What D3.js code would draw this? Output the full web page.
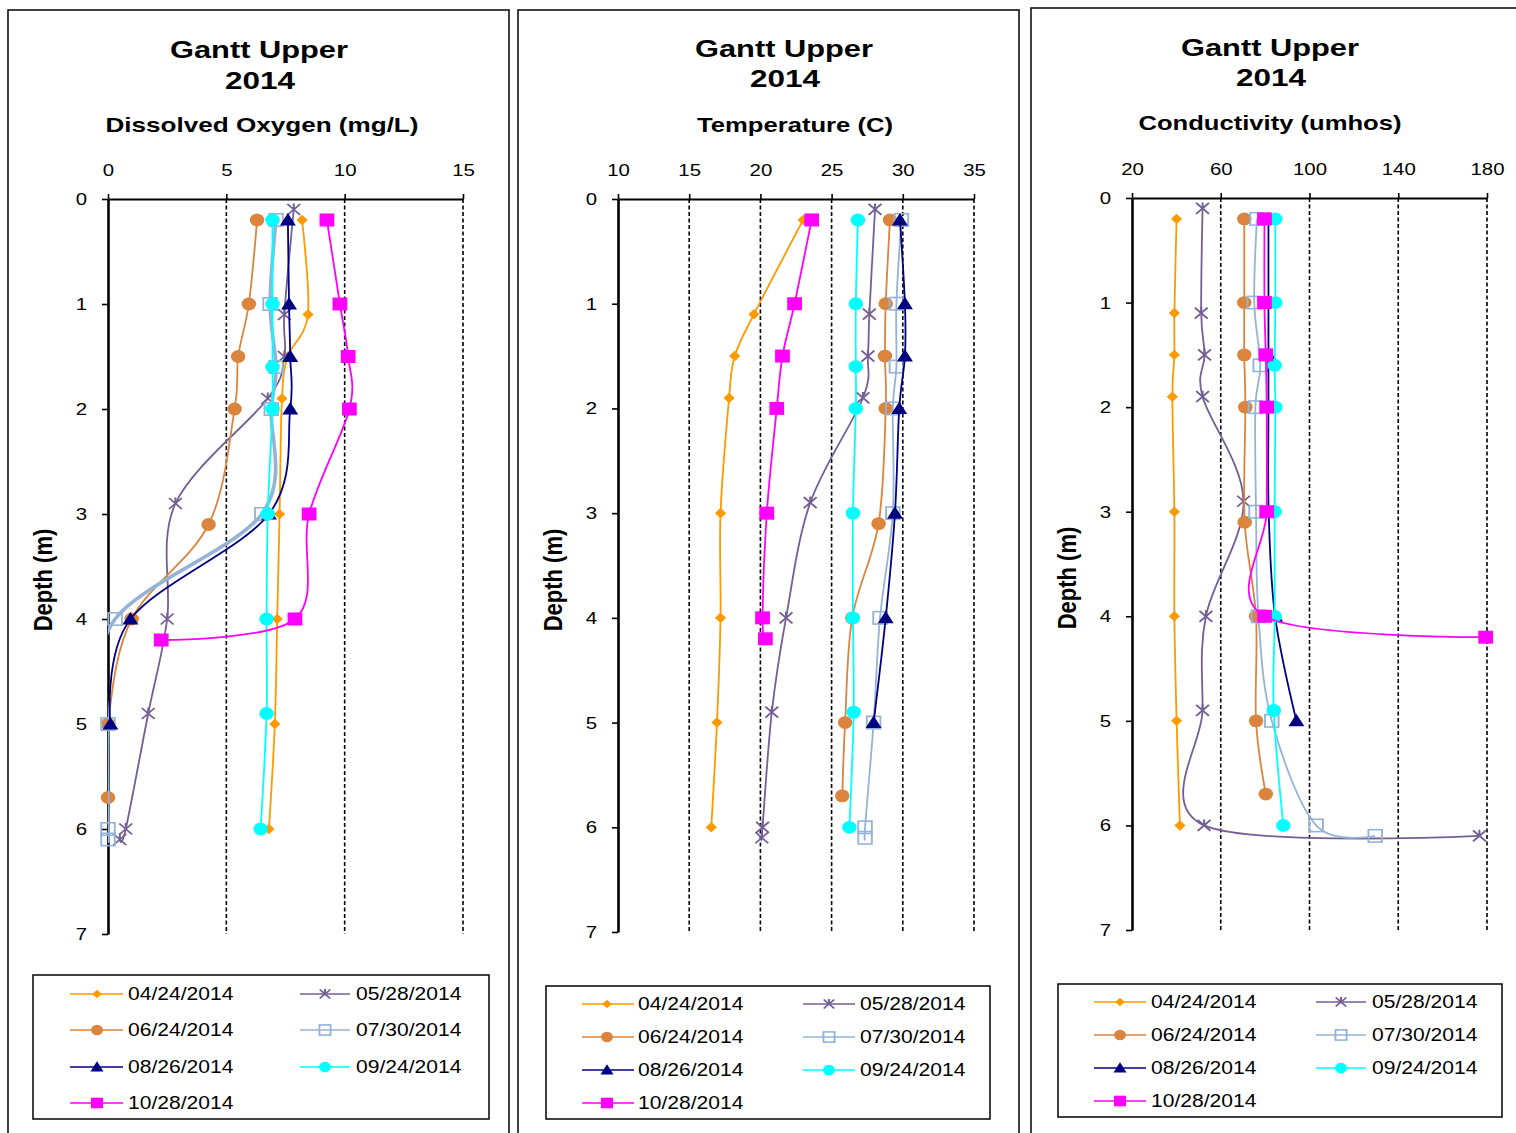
<!DOCTYPE html>
<html><head><meta charset="utf-8">
<script src="https://cdn.jsdelivr.net/npm/d3@7"></script>
<style>body{margin:0;background:#fff;} text{font-family:"Liberation Sans",Arial,sans-serif;}</style>
</head><body>
<svg id="chart" width="1516" height="1133"></svg>
<script>
// ---------- DATA ----------
const dates = ["04/24/2014","05/28/2014","06/24/2014","07/30/2014","08/26/2014","09/24/2014","10/28/2014"];

const depth0424 = [0.2,1.1,1.5,1.9,3.0,4.0,5.0,6.0];
const depth0528 = [0.1,1.1,1.5,1.9,2.9,4.0,4.9,6.0,6.1];
const depth0624 = [0.2,1.0,1.5,2.0,3.1,4.0,5.0,5.7];
const depth0730 = [0.2,1.0,1.6,2.0,3.0,4.0,5.0,6.0,6.1];
const depth0826 = [0.2,1.0,1.5,2.0,3.0,4.0,5.0];
const depth0924 = [0.2,1.0,1.6,2.0,3.0,4.0,4.9,6.0];
const depth1028 = [0.2,1.0,1.5,2.0,3.0,4.0,4.2];

const do0424 = [8.2,8.45,7.6,7.35,7.25,7.15,7.05,6.8];
const do0528 = [7.85,7.45,7.45,6.75,2.85,2.5,1.7,0.75,0.5];
const do0624 = [6.3,5.95,5.5,5.35,4.25,1.0,0.0,0.0];
const do0730 = [7.1,6.85,7.1,6.9,6.5,0.3,0.0,0.0,0.0];
const do0826 = [7.6,7.65,7.7,7.7,6.8,0.95,0.1];
const do0924 = [6.95,6.95,6.95,6.95,6.75,6.7,6.7,6.45];
const do1028 = [9.25,9.8,10.15,10.2,8.5,7.9,2.25];

const temp0424 = [23.0,19.55,18.2,17.8,17.2,17.2,16.95,16.55];
const temp0528 = [28.05,27.65,27.55,27.2,23.5,21.8,20.8,20.15,20.1];
const temp0624 = [29.1,28.8,28.75,28.8,28.3,26.45,25.95,25.75];
const temp0730 = [29.9,29.55,29.55,29.3,29.3,28.4,27.95,27.35,27.35];
const temp0826 = [29.8,30.15,30.15,29.75,29.45,28.8,27.95];
const temp0924 = [26.85,26.7,26.7,26.7,26.5,26.5,26.55,26.25];
const temp1028 = [23.6,22.4,21.55,21.15,20.45,20.15,20.35];

const cond0424 = [40.1,39.1,39.1,38.2,39.1,39.1,40.1,41.6];
const cond0528 = [51.8,51.2,52.7,51.8,70.3,53.3,51.8,52.5,176.6];
const cond0624 = [70.6,70.6,70.6,71.1,70.8,75.9,75.9,80.3];
const cond0730 = [76.3,75.1,77.8,75.6,75.9,77.0,83.0,103.0,129.6];
const cond0826 = [81.5,81.5,81.5,81.5,81.6,84.5,94.1];
const cond0924 = [84.6,84.6,84.3,84.6,84.3,84.3,83.9,88.2];
const cond1028 = [79.7,79.7,80.3,80.7,80.7,79.7,179.4];

const doTicks = [0,5,10,15];
const tempTicks = [10,15,20,25,30,35];
const condTicks = [20,60,100,140,180];
const depthTicks = [0,1,2,3,4,5,6,7];

const titleLine1 = "Gantt Upper";
const titleLine2 = "2014";
const depthLabel = "Depth (m)";

// ---------- STYLE ----------
const depths = [depth0424,depth0528,depth0624,depth0730,depth0826,depth0924,depth1028];
const colors = ["#FF9900","#735E96","#DA843E","#95B3D7","#000080","#00FFFF","#FF00FF"];
const markerTypes = ["diamond","x","circle","openSquare","triangle","circle","square"];

const svg = d3.select("#chart");
const defs = svg.append("defs");
const SX = 1.17; // horizontal stretch of original image

function marker(g, type, cx, cy, color, s) {
  const m = g.append("g").attr("transform", `translate(${cx},${cy}) scale(${SX},1)`);
  if (type === "diamond") {
    m.append("path").attr("d", `M0,${-5.2*s}L${4.8*s},0L0,${5.2*s}L${-4.8*s},0Z`).attr("fill", color);
  } else if (type === "circle") {
    m.append("ellipse").attr("rx", 6.2*s).attr("ry", 6.4*s).attr("fill", color);
  } else if (type === "square") {
    m.append("rect").attr("x", -6.3*s).attr("y", -6.5*s).attr("width", 12.6*s).attr("height", 13*s).attr("fill", color);
  } else if (type === "openSquare") {
    m.append("rect").attr("x", -5.8*s).attr("y", -6.2*s).attr("width", 11.6*s).attr("height", 12.4*s)
      .attr("fill", "none").attr("stroke", color).attr("stroke-width", 1.6);
  } else if (type === "triangle") {
    m.append("path").attr("d", `M0,${-7*s}L${6.8*s},${5.5*s}L${-6.8*s},${5.5*s}Z`).attr("fill", color);
  } else if (type === "x") {
    const r = 5.5*s;
    m.append("path").attr("d", `M${-r},${-r}L${r},${r}M${-r},${r}L${r},${-r}M0,${-r*1.1}L0,${-r*0.2}`)
      .attr("stroke", color).attr("stroke-width", 1.7).attr("fill", "none");
  }
}

let panelIndex = 0;
function drawPanel(cfg) {
  const g = svg.append("g");
  const id = "clip" + (panelIndex++);
  // frame
  g.append("rect").attr("x", cfg.frame[0]).attr("y", cfg.frame[1]).attr("width", cfg.frame[2]).attr("height", cfg.frame[3])
    .attr("fill", "none").attr("stroke", "#111").attr("stroke-width", 1.6);

  // titles
  g.append("text").attr("x", cfg.titleX).attr("y", cfg.t1y).attr("text-anchor", "middle")
    .attr("font-size", 24).attr("font-weight", "bold").attr("textLength", 178).attr("lengthAdjust", "spacingAndGlyphs").text(titleLine1);
  g.append("text").attr("x", cfg.titleX + 1).attr("y", cfg.t2y).attr("text-anchor", "middle")
    .attr("font-size", 24).attr("font-weight", "bold").attr("textLength", 70).attr("lengthAdjust", "spacingAndGlyphs").text(titleLine2);
  g.append("text").attr("x", cfg.subX).attr("y", cfg.subY).attr("text-anchor", "middle")
    .attr("font-size", 21).attr("font-weight", "bold").attr("textLength", cfg.subW).attr("lengthAdjust", "spacingAndGlyphs").text(cfg.sub);

  const x = d3.scaleLinear().domain([cfg.ticks[0], cfg.ticks[cfg.ticks.length-1]]).range([cfg.x0, cfg.x1]);
  const y = d3.scaleLinear().domain([0, 7]).range([cfg.y0, cfg.y7]);

  defs.append("clipPath").attr("id", id).append("rect")
    .attr("x", cfg.x0).attr("y", cfg.y0).attr("width", cfg.x1 - cfg.x0).attr("height", cfg.y7 - cfg.y0);

  // gridlines
  g.append("g").selectAll("line").data(cfg.ticks.slice(1)).join("line")
    .attr("x1", d => x(d)).attr("x2", d => x(d)).attr("y1", cfg.y0).attr("y2", cfg.y7)
    .attr("stroke", "#000").attr("stroke-width", 1.6).attr("stroke-dasharray", "4,2.5");

  // top axis
  const ax = g.append("g").attr("transform", `translate(0,${cfg.y0})`)
    .call(d3.axisTop(x).tickValues(cfg.ticks).tickFormat(d3.format("d")).tickSize(5).tickSizeOuter(0).tickPadding(cfg.xLabPad));
  ax.select(".domain").attr("stroke", "#000").attr("stroke-width", 2.2);
  ax.selectAll(".tick line").attr("stroke", "#000").attr("stroke-width", 1.6);
  ax.selectAll("text").attr("font-size", 17).attr("fill", "#000").attr("font-family", "Liberation Sans, Arial, sans-serif")
    .attr("transform", `scale(1.2,1)`);

  // left axis
  const ay = g.append("g").attr("transform", `translate(${cfg.x0},0)`)
    .call(d3.axisLeft(y).tickValues(depthTicks).tickFormat(d3.format("d")).tickSize(6).tickSizeOuter(0).tickPadding(15));
  ay.select(".domain").attr("stroke", "#000").attr("stroke-width", 2.6);
  ay.selectAll(".tick line").attr("stroke", "#000").attr("stroke-width", 1.6);
  ay.selectAll("text").attr("font-size", 17).attr("fill", "#000").attr("font-family", "Liberation Sans, Arial, sans-serif")
    .attr("x", 0).attr("transform", `translate(-21,0) scale(1.2,1)`);

  g.append("text").attr("transform", `translate(${cfg.x0 - 65},${cfg.depthY}) scale(${SX},1) rotate(-90)`)
    .attr("text-anchor", "middle").attr("dy", "0.35em").attr("font-size", 22).attr("font-weight", "bold").text(depthLabel);

  // series
  const line = d3.line().x(d => x(d.v)).y(d => y(d.d)).curve(d3.curveCardinal.tension(0));
  cfg.values.forEach((vals, i) => {
    const pts = vals.map((v, k) => ({v: v, d: depths[i][k]}));
    g.append("path").datum(pts).attr("d", line).attr("fill", "none").attr("stroke", colors[i])
      .attr("clip-path", `url(#${id})`)
      .attr("stroke-width", (cfg.thick && i === 3) ? 3.6 : 1.8);
    const mg = g.append("g");
    pts.forEach(p => marker(mg, markerTypes[i], x(p.v), y(p.d), colors[i], 1));
  });

  // legend
  const L = cfg.legend;
  g.append("rect").attr("x", L.x).attr("y", L.y).attr("width", L.w).attr("height", L.h)
    .attr("fill", "none").attr("stroke", "#111").attr("stroke-width", 1.6);
  dates.forEach((dt, i) => {
    const row = Math.floor(i / 2), col = i % 2;
    const c = col === 0 ? L.c1 : L.c2;
    const yy = L.rows[row];
    g.append("line").attr("x1", c[0]).attr("x2", c[1]).attr("y1", yy).attr("y2", yy)
      .attr("stroke", colors[i]).attr("stroke-width", 1.6);
    marker(g, markerTypes[i], c[2], yy, colors[i], 0.82);
    g.append("text").attr("transform", `translate(${c[3]},${yy}) scale(1.17,1)`).attr("dy", "0.36em")
      .attr("font-size", 18).attr("fill", "#000").text(dt);
  });
}

drawPanel({
  frame: [8, 10, 501, 1140], titleX: 259, t1y: 58, t2y: 89, sub: "Dissolved Oxygen (mg/L)", subX: 262, subY: 132, subW: 313,
  ticks: doTicks, x0: 108, x1: 463, y0: 199, y7: 934, xLabPad: 18, depthY: 580, thick: true,
  values: [do0424, do0528, do0624, do0730, do0826, do0924, do1028],
  legend: {x: 33, y: 975, w: 456, h: 144, rows: [994, 1030, 1067, 1103], c1: [70, 123, 97, 128], c2: [300, 350, 325, 356]}
});
drawPanel({
  frame: [518, 10, 501, 1140], titleX: 784, t1y: 57, t2y: 87, sub: "Temperature (C)", subX: 795, subY: 132, subW: 196,
  ticks: tempTicks, x0: 618, x1: 974, y0: 199, y7: 932, xLabPad: 18, depthY: 580, thick: false,
  values: [temp0424, temp0528, temp0624, temp0730, temp0826, temp0924, temp1028],
  legend: {x: 546, y: 986, w: 444, h: 133, rows: [1004, 1037, 1070, 1103], c1: [582, 634, 607, 638], c2: [803, 855, 829, 860]}
});
drawPanel({
  frame: [1031, 8, 520, 1140], titleX: 1270, t1y: 56, t2y: 86, sub: "Conductivity (umhos)", subX: 1270, subY: 130, subW: 263,
  ticks: condTicks, x0: 1132, x1: 1487, y0: 198, y7: 930, xLabPad: 18, depthY: 578, thick: false,
  values: [cond0424, cond0528, cond0624, cond0730, cond0826, cond0924, cond1028],
  legend: {x: 1058, y: 984, w: 444, h: 133, rows: [1002, 1035, 1068, 1101], c1: [1094, 1146, 1120, 1151], c2: [1316, 1366, 1341, 1372]}
});
</script>
</body></html>
